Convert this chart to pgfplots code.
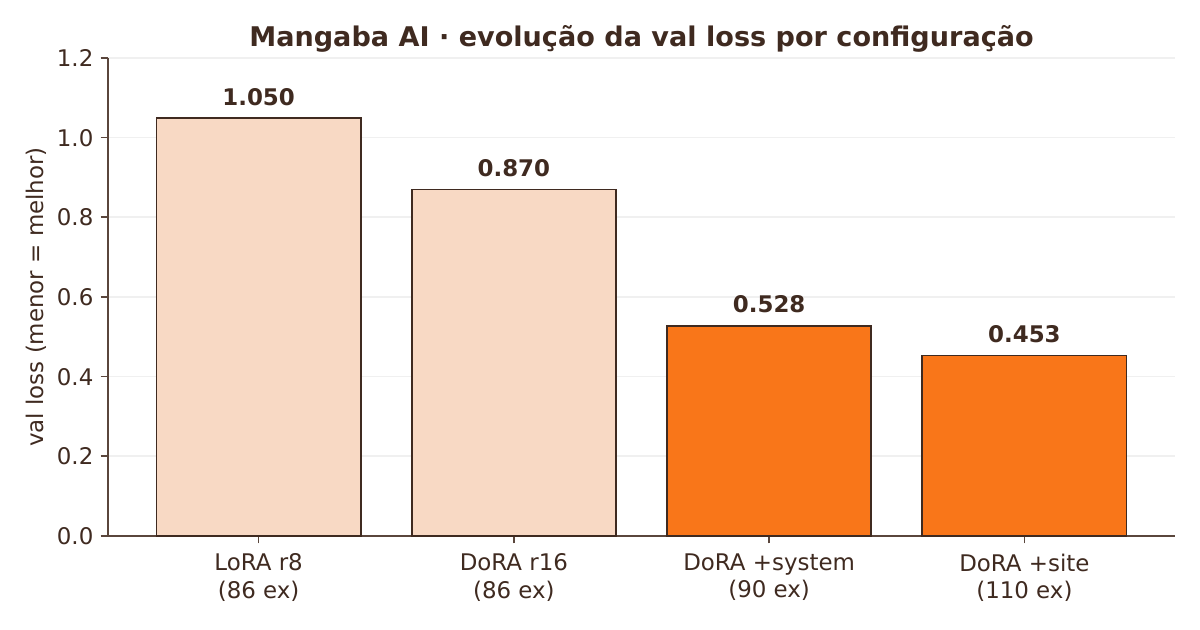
\documentclass[border=0pt]{standalone}
\usepackage{fontspec}
\setmainfont{DejaVu Sans}
\usepackage{pgfplots}
\pgfplotsset{compat=1.18}
\definecolor{txt}{HTML}{3F2A20}
\definecolor{spine}{HTML}{5A463C}
\definecolor{light}{HTML}{F8D9C4}
\definecolor{orng}{HTML}{F97619}
\definecolor{gridc}{HTML}{F0F0F0}
\begin{document}
\begin{tikzpicture}
\path[use as bounding box] (0,0) rectangle (576pt,302.4pt);
\begin{axis}[
  at={(51.84pt,45.12pt)}, anchor=south west,
  scale only axis, width=512.16pt, height=229.44pt,
  xmin=-0.59, xmax=3.59, ymin=0, ymax=1.2,
  axis lines*=left,
  axis line style={spine, line width=0.8pt, -},
  xtick={0,1,2,3},
  xticklabels={{LoRA r8\\(86 ex)},{DoRA r16\\(86 ex)},{DoRA +system\\(90 ex)},{DoRA +site\\(110 ex)}},
  xticklabel style={align=center, font=\fontsize{11pt}{13.2pt}\selectfont, text=txt, yshift=-1.5pt},
  ytick={0,0.2,...,1.2},
  yticklabel style={font=\fontsize{11pt}{13pt}\selectfont, text=txt,
    /pgf/number format/.cd, fixed, fixed zerofill, precision=1},
  /pgf/number format/assume math mode=true,
  tick align=outside, major tick length=3.5pt,
  tick style={spine, line width=0.8pt},
  ymajorgrids, grid style={gridc, line width=0.8pt},
  ylabel={val loss (menor = melhor)},
  ylabel shift=-2pt,
  ylabel style={font=\fontsize{11pt}{13pt}\selectfont, text=txt},
  title={\textbf{Mangaba AI · evolução da val loss por configuração}},
  title style={font=\fontsize{13pt}{15pt}\selectfont, text=txt, yshift=-7pt},
  ybar, bar width=0.8, bar shift=0pt,
  nodes near coords={\pgfmathprintnumber[fixed,fixed zerofill,precision=3]{\pgfplotspointmeta}},
  nodes near coords style={font=\fontsize{11pt}{13pt}\selectfont\bfseries, text=txt, anchor=south, inner sep=0pt, yshift=5.5pt, /pgf/number format/assume math mode=true},
  clip=false,
]
\addplot[fill=light, draw=txt, line width=0.9pt] coordinates {(0,1.050) (1,0.870)};
\addplot[fill=orng, draw=txt, line width=0.9pt] coordinates {(2,0.528) (3,0.453)};
\end{axis}
\end{tikzpicture}
\end{document}
